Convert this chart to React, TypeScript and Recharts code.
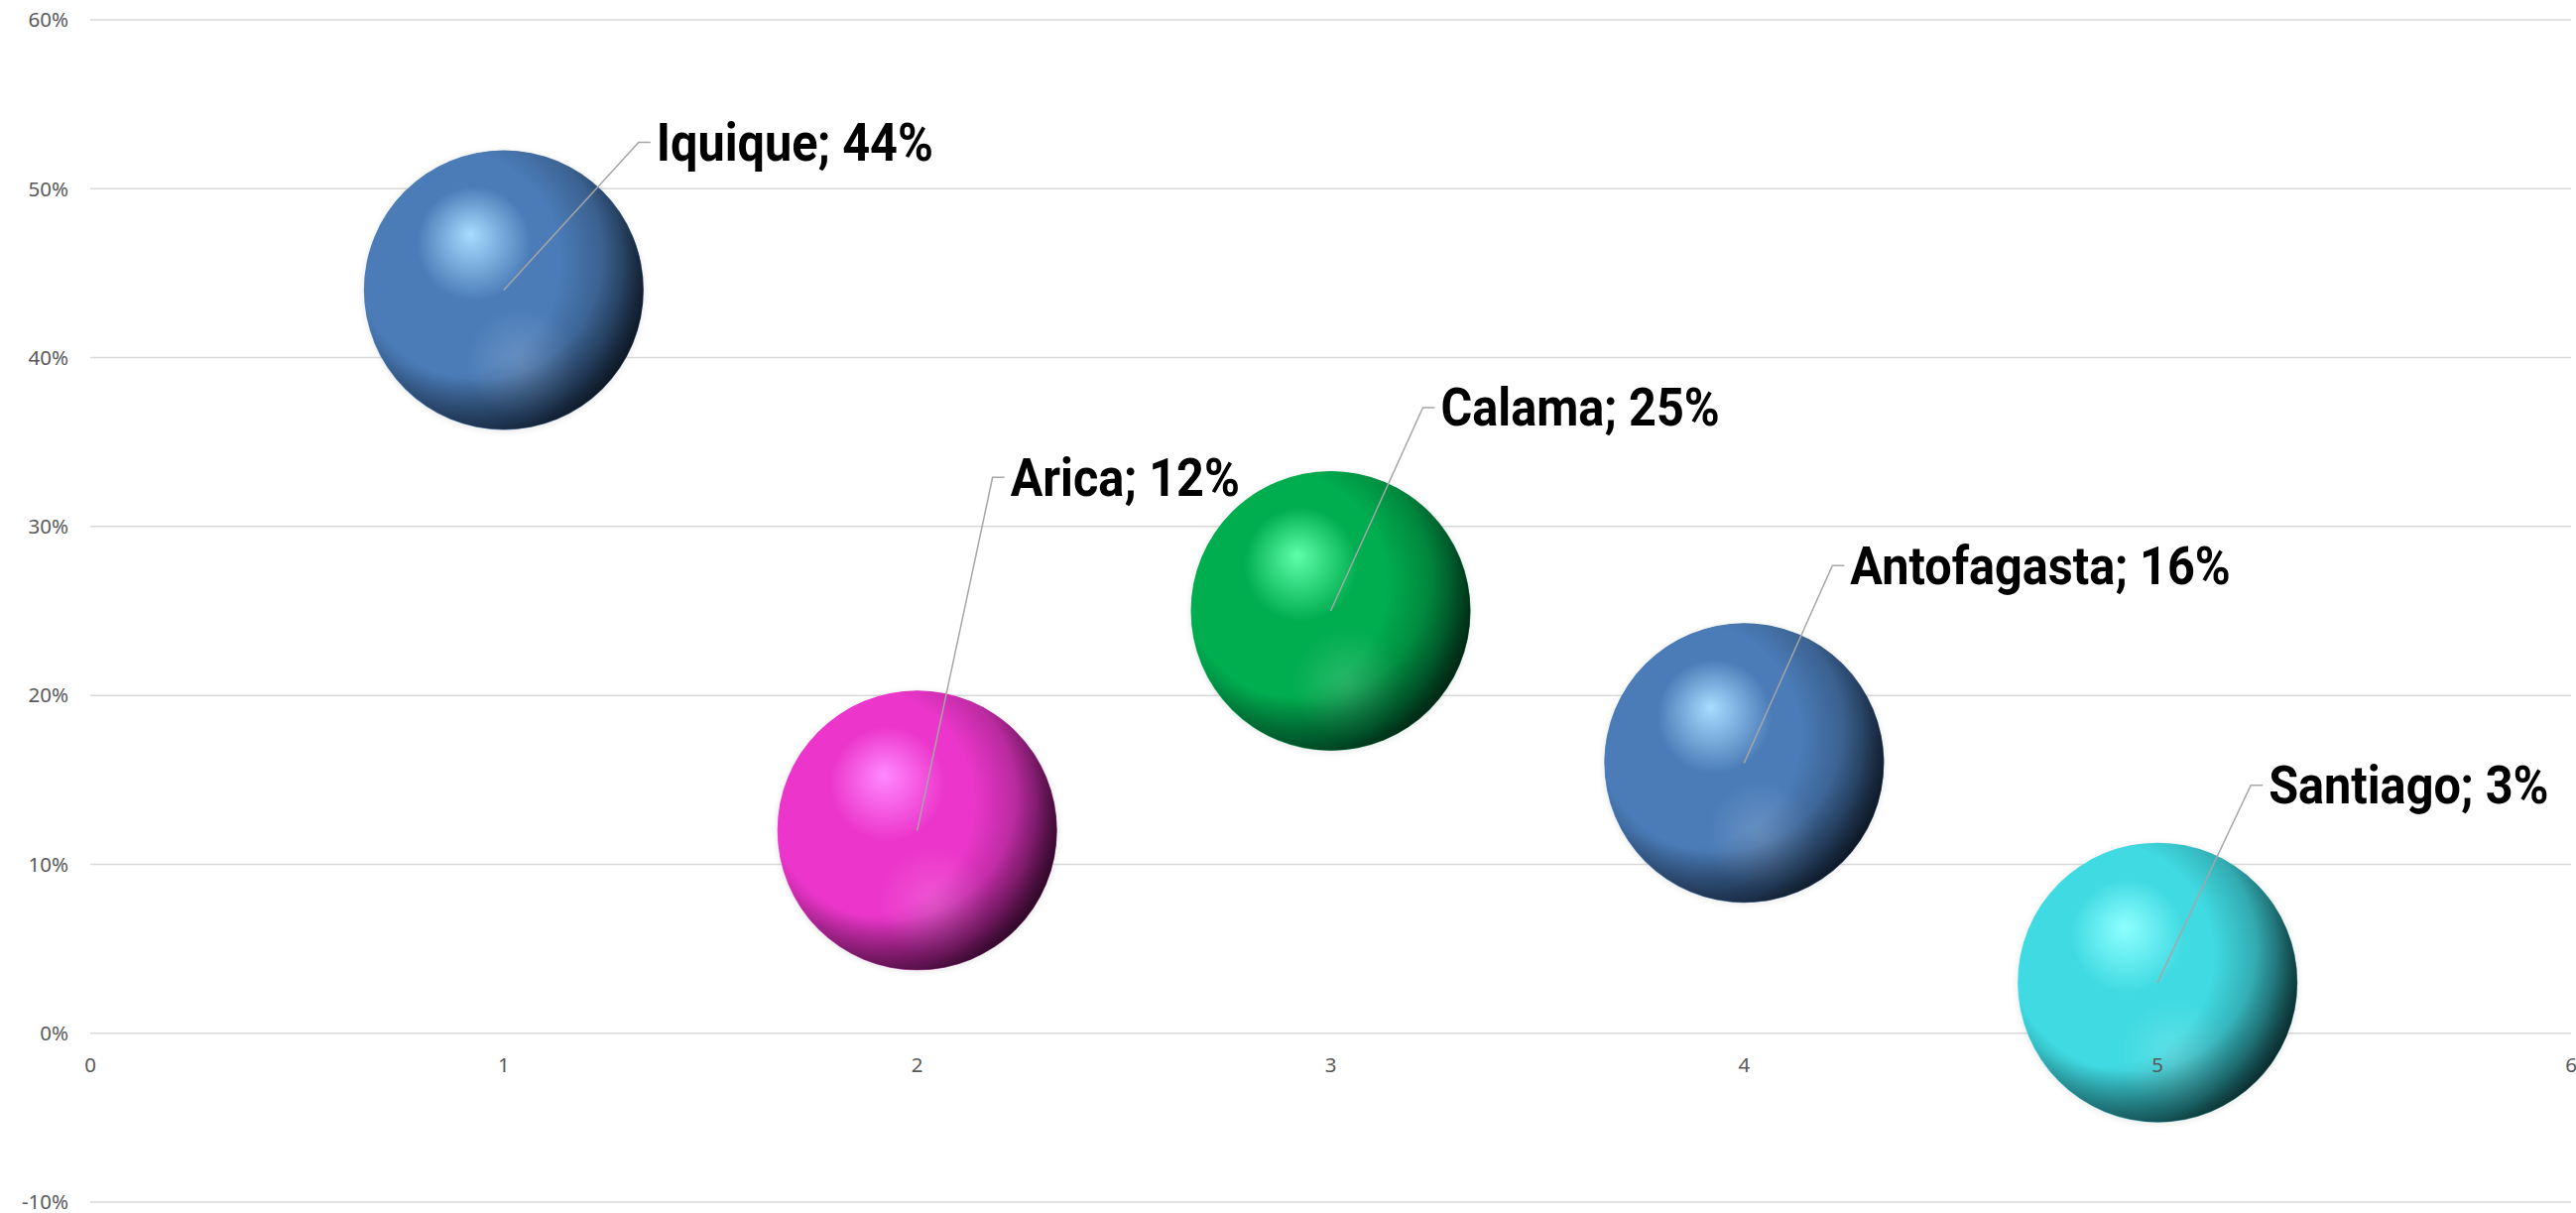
import React from 'react';
import { ScatterChart, Scatter, XAxis, YAxis, ZAxis, CartesianGrid, Cell, LabelList } from 'recharts';

// datos
const cities = ['Iquique', 'Arica', 'Calama', 'Antofagasta', 'Santiago'];
const xValues = [1, 2, 3, 4, 5];
const shares = [0.44, 0.12, 0.25, 0.16, 0.03];
const bubbleSizes = [1, 1, 1, 1, 1];
const yTicks = [-0.1, 0, 0.1, 0.2, 0.3, 0.4, 0.5, 0.6];
const xTicks = [0, 1, 2, 3, 4, 5, 6];

// estilos
const palette = [
  { light: '#a8dcff', base: '#4b7cb8', dark: '#243f62', rim: '#7fb2f0' },
  { light: '#ff88ff', base: '#ec36cb', dark: '#7a1666', rim: '#ff70e6' },
  { light: '#5effaa', base: '#00ad4f', dark: '#006333', rim: '#40d890' },
  { light: '#a8dcff', base: '#4b7cb8', dark: '#243f62', rim: '#7fb2f0' },
  { light: '#8effff', base: '#40dae2', dark: '#1c7478', rim: '#6ff3f8' },
];
// desplazamiento de cada etiqueta respecto al centro de la burbuja
const labelOffsets = [
  { dx: 136, dy: -149 },
  { dx: 76, dy: -356 },
  { dx: 93, dy: -205 },
  { dx: 89, dy: -199 },
  { dx: 94, dy: -199 },
];

const W = 2597;
const H = 1223;
const X_AXIS_H = 11;
const MARGIN = { top: 20, right: 5, bottom: 0, left: 0 };
const PLOT_H = H - MARGIN.top - MARGIN.bottom - X_AXIS_H;
const Y_MIN = yTicks[0];
const Y_MAX = yTicks[yTicks.length - 1];
// eje X cruza en 0%
const ZERO_Y = MARGIN.top + PLOT_H * (Y_MAX / (Y_MAX - Y_MIN));

const data = cities.map((c, i) => ({
  name: c,
  x: xValues[i],
  y: shares[i],
  z: bubbleSizes[i],
  idx: i,
}));

const tickFont = { fontFamily: "'Noto Sans', sans-serif", fontSize: 20.5, fill: '#595959' };

// eslint-disable-next-line @typescript-eslint/no-explicit-any
const XTick = (props: any) => {
  const { x, payload } = props;
  return (
    <text x={x} y={ZERO_Y + 39} textAnchor="middle" {...tickFont}>
      {payload.value}
    </text>
  );
};

// eslint-disable-next-line @typescript-eslint/no-explicit-any
const Sphere = (props: any) => {
  const { cx, cy, width, index } = props;
  const r = (width || 282) / 2;
  const i = index ?? 0;
  return (
    <g>
      <circle cx={cx} cy={cy + 1} r={r + 1} fill="#000" opacity={0.08} filter="url(#soft)" />
      <circle cx={cx} cy={cy} r={r} fill={`url(#rim${i})`} />
      <circle cx={cx} cy={cy} r={r - 0.5} fill={`url(#sph${i})`} />
      <circle cx={cx} cy={cy} r={r} fill="url(#glow)" />
      <circle cx={cx} cy={cy} r={r} fill="url(#shade)" />
    </g>
  );
};

// eslint-disable-next-line @typescript-eslint/no-explicit-any
const BubbleLabel = (props: any) => {
  const { x, y, width, height, value } = props;
  const i = Number(value);
  const cx = x + width / 2;
  const cy = y + height / 2;
  const off = labelOffsets[i];
  const ex = cx + off.dx;
  const ey = cy + off.dy;
  return (
    <g>
      <polyline
        points={`${cx},${cy} ${ex},${ey} ${ex + 12},${ey}`}
        fill="none"
        stroke="#a6a6a6"
        strokeWidth={1.5}
      />
      <text
        transform={`translate(${ex + 18},${ey}) scale(0.9,1)`}
        x={0}
        y={0}
        dominantBaseline="central"
        fontFamily="Roboto, 'Noto Sans', sans-serif"
        fontWeight="bold"
        fontSize={54}
        fill="#000"
      >
        {`${cities[i]}; ${Math.round(shares[i] * 100)}%`}
      </text>
    </g>
  );
};

export default function App() {
  return (
    <div style={{ position: 'absolute', left: 0, top: 0, width: W, height: H, background: '#fff' }}>
      <ScatterChart width={W} height={H} margin={MARGIN}>
        <defs>
          {palette.map((p, i) => (
            <radialGradient key={`s${i}`} id={`sph${i}`} cx="0.42" cy="0.4" r="0.62" fx="0.38" fy="0.3">
              <stop offset="0%" stopColor={p.light} />
              <stop offset="33%" stopColor={p.base} />
              <stop offset="72%" stopColor={p.base} />
              <stop offset="100%" stopColor={p.dark} />
            </radialGradient>
          ))}
          {palette.map((p, i) => (
            <linearGradient key={`r${i}`} id={`rim${i}`} x1="0.2" y1="0.2" x2="0.5" y2="1">
              <stop offset="0%" stopColor={p.base} />
              <stop offset="100%" stopColor={p.rim} />
            </linearGradient>
          ))}
          <radialGradient id="glow" cx="0.56" cy="0.76" r="0.2">
            <stop offset="0%" stopColor="#fff" stopOpacity={0.16} />
            <stop offset="100%" stopColor="#fff" stopOpacity={0} />
          </radialGradient>
          <radialGradient id="shade" cx="0.3" cy="0.4" r="0.8">
            <stop offset="50%" stopColor="#000" stopOpacity={0} />
            <stop offset="78%" stopColor="#000" stopOpacity={0.32} />
            <stop offset="100%" stopColor="#000" stopOpacity={0.85} />
          </radialGradient>
          <filter id="soft" x="-20%" y="-20%" width="140%" height="140%">
            <feGaussianBlur stdDeviation="3" />
          </filter>
        </defs>
        <CartesianGrid horizontal vertical={false} stroke="#d9d9d9" strokeWidth={1.5} />
        <XAxis
          type="number"
          dataKey="x"
          domain={[0, 6]}
          ticks={xTicks}
          axisLine={false}
          tickLine={false}
          height={X_AXIS_H}
          tick={<XTick />}
          interval={0}
        />
        <YAxis
          type="number"
          dataKey="y"
          domain={[Y_MIN, Y_MAX]}
          ticks={yTicks}
          width={91}
          axisLine={false}
          tickLine={false}
          tickMargin={16}
          interval={0}
          tick={tickFont}
          tickFormatter={(v: number) => `${Math.round(v * 100)}%`}
        />
        <ZAxis type="number" dataKey="z" range={[62458, 62458]} />
        <Scatter data={data} shape={<Sphere />} isAnimationActive={false}>
          {data.map((d, i) => (
            <Cell key={d.name} fill={palette[i].base} />
          ))}
          <LabelList dataKey="idx" content={<BubbleLabel />} />
        </Scatter>
      </ScatterChart>
    </div>
  );
}
